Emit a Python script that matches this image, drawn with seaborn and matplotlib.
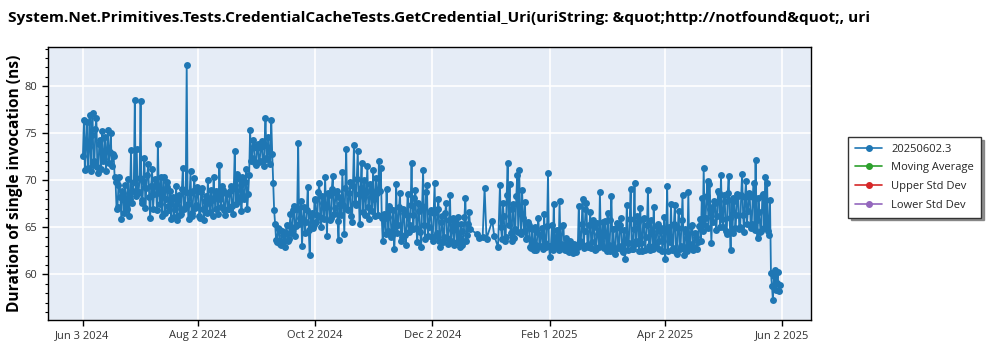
import matplotlib
matplotlib.use("Agg")
import matplotlib.pyplot as plt
import matplotlib.dates as mdates
from matplotlib.lines import Line2D
from matplotlib.ticker import MultipleLocator, FuncFormatter
import numpy as np
import pandas as pd
import seaborn as sns

TITLE = ("System.Net.Primitives.Tests.CredentialCacheTests.GetCredential_Uri"
         "(uriString: &quot;http://notfound&quot;, uri")
Y_LABEL = "Duration of single invocation (ns)"
SERIES_NAME = "20250602.3"
LEGEND_LABELS = [SERIES_NAME, "Moving Average", "Upper Std Dev", "Lower Std Dev"]
LEGEND_COLORS = ["#1f77b4", "#2ca02c", "#d62728", "#9467bd"]
TICK_DATES = ["2024-06-03", "2024-08-02", "2024-10-02", "2024-12-02",
              "2025-02-01", "2025-04-02", "2025-06-02"]

# Morning runs (ns), one array per month
jun24 = [72.6, 71.1, 76.2, 73.5, 71.0, 77.2, 72.0, 76.6, 70.8, 74.3,
         75.2, 72.3, 71.0, 75.3, 73.0, 71.5, 72.6,
         69.8, 67.2, 70.3, 65.9, 68.6, 69.5, 67.0, 66.2, 73.2, 68.9, 78.5]
jul24 = [73.3, 68.8, 78.4, 67.9, 72.4, 69.2, 71.7, 66.0, 71.2, 68.5,
         69.6, 73.9, 67.5, 66.2, 70.3, 68.0, 69.3, 66.8, 65.9, 68.2,
         67.0, 65.8, 68.4, 66.4, 71.3, 67.2, 82.3, 65.9, 71.0, 66.5, 70.2]
aug24 = [67.4, 68.9, 66.0, 69.2, 65.8, 68.3, 70.0, 66.6, 67.9, 70.3,
         66.9, 68.6, 71.6, 67.2, 69.0, 66.3, 68.5, 67.0, 69.4, 66.4,
         73.1, 70.7, 67.8, 69.5, 70.4, 68.0, 71.2, 68.5, 75.4, 72.4, 73.6]
sep24 = [71.6, 73.9, 72.1, 74.2, 71.5, 76.6, 72.3, 73.0, 76.4, 69.7,
         65.4, 63.4, 64.8, 63.1, 64.2, 62.9, 65.3, 63.8, 66.4, 64.9,
         67.3, 65.1, 74.0, 66.0, 63.0, 67.2, 65.6, 69.3, 62.1, 66.5]
oct24 = [65.2, 68.0, 66.3, 69.7, 65.0, 67.6, 70.3, 64.1, 68.4, 66.0,
         70.5, 67.1, 68.9, 63.7, 67.5, 70.9, 64.3, 73.3, 66.8, 69.8,
         65.6, 73.7, 67.4, 73.1, 65.4, 71.8, 68.2, 66.3, 71.5, 65.9, 69.0]
nov24 = [71.1, 66.2, 68.7, 72.0, 71.3, 63.5, 66.0, 69.1, 64.6, 66.9,
         64.2, 62.7, 69.6, 65.3, 68.6, 64.0, 66.5, 63.1, 68.5, 65.2,
         71.8, 64.8, 69.0, 63.4, 66.7, 62.9, 71.1, 63.8, 69.5, 65.0]
dec24 = [66.8, 63.6, 69.7, 64.4, 68.0, 62.9, 66.2, 64.0, 67.6, 63.2,
         68.4, 64.7, 63.1, 65.5, 66.1, 62.9, 64.6, 63.5, 68.1, 64.2, 66.6]
jan25 = [69.5, 63.8, 66.2, 64.0, 71.8, 69.6, 63.6, 67.5, 64.8, 70.6,
         71.1, 64.3, 66.0, 67.7, 63.9, 65.3, 62.8, 63.1, 65.0, 62.6,
         66.0, 63.0, 64.9, 66.4, 62.9, 70.8]
feb25 = [61.8, 65.2, 67.5, 62.9, 64.1, 67.8, 63.0, 65.3, 62.6, 63.2,
         62.4, 63.0, 62.3, 62.8, 63.1, 67.3, 63.2, 68.0, 64.6, 67.6,
         62.9, 66.6, 63.4, 65.0, 62.7, 64.3, 68.8, 63.1]
mar25 = [62.8, 64.2, 66.5, 62.5, 68.3, 64.8, 62.2, 65.5, 63.0, 66.0,
         62.4, 61.6, 67.4, 63.3, 69.1, 62.7, 69.7, 63.5, 65.6, 67.1,
         62.5, 66.0, 64.0, 69.0, 62.6, 64.6, 67.2, 62.9, 65.4, 63.6, 64.9]
apr25 = [63.5, 61.6, 69.4, 65.0, 67.5, 62.8, 67.4, 62.2, 66.7, 63.0,
         68.4, 62.1, 64.5, 68.8, 63.2, 65.3, 62.9, 64.0, 63.4, 65.9,
         68.1, 71.3, 66.0, 69.9, 69.6, 63.3, 65.6, 67.6, 66.2, 68.6]
may25 = [70.6, 65.0, 67.8, 64.3, 70.5, 62.6, 64.4, 67.8, 66.3, 68.3,
         65.0, 70.7, 64.5, 69.9, 66.7, 68.3, 65.4, 69.7, 72.2, 63.9,
         66.6, 64.6, 68.5, 70.3, 69.7, 64.2, 60.1, 57.3, 60.5, 59.1, 58.2]

# Evening runs (ns), same days as above
jun24_pm = [76.4, 74.0, 71.3, 76.9, 74.8, 71.6, 75.5, 71.4, 73.9, 71.2,
            72.0, 74.6, 73.2, 71.8, 75.0, 72.8, 70.4,
            67.0, 69.5, 68.2, 68.9, 66.5, 67.4, 70.1, 68.0, 67.6, 69.8, 68.3]
jul24_pm = [68.6, 70.2, 67.6, 69.9, 67.1, 70.6, 68.2, 69.4, 67.0, 70.1,
            66.8, 68.7, 70.4, 68.9, 66.5, 69.8, 67.3, 68.9, 68.0, 66.1,
            69.4, 67.9, 66.3, 69.1, 67.0, 68.8, 67.5, 68.6, 66.2, 68.9, 67.1]
aug24_pm = [69.3, 66.2, 68.8, 66.9, 67.8, 66.5, 67.6, 69.0, 66.2, 68.1,
            68.9, 66.4, 68.0, 69.4, 66.8, 68.7, 66.9, 68.9, 67.3, 69.2,
            67.5, 68.2, 70.1, 66.7, 68.3, 69.8, 67.0, 70.6, 72.1, 74.3, 71.8]
sep24_pm = [73.4, 71.9, 73.5, 72.0, 73.8, 72.4, 74.6, 71.7, 72.8, 66.8,
            63.7, 64.9, 63.2, 64.6, 63.6, 64.4, 63.5, 65.1, 64.4, 66.8,
            64.1, 66.9, 65.4, 67.8, 65.8, 64.4, 66.8, 64.7, 66.2, 64.9]
oct24_pm = [67.9, 65.6, 68.8, 66.1, 68.3, 65.9, 67.2, 68.7, 65.8, 69.1,
            66.4, 68.7, 65.7, 68.2, 66.3, 67.4, 69.2, 67.0, 68.6, 66.2,
            69.4, 67.6, 70.1, 68.5, 69.2, 66.6, 70.0, 68.8, 67.2, 69.6, 66.7]
nov24_pm = [68.0, 70.2, 66.3, 68.9, 66.0, 66.4, 64.3, 66.1, 67.3, 64.0,
            66.8, 65.1, 64.4, 67.2, 63.6, 66.9, 64.2, 66.3, 64.5, 67.4,
            66.3, 68.1, 64.9, 67.6, 64.5, 67.3, 65.2, 68.8, 64.1, 66.6]
dec24_pm = [64.0, 66.5, 64.1, 66.9, 63.5, 65.6, 63.4, 66.5, 63.9, 65.8,
            63.5, 66.0, 65.3, 63.4, 63.8, 65.4, 63.1, 66.1, 63.6, 65.4, 64.8]
jan25_pm = [65.0, 67.6, 63.6, 68.4, 65.2, 64.4, 67.0, 63.9, 68.3, 64.5,
            66.5, 69.0, 64.6, 63.8, 65.6, 62.9, 64.8, 62.6, 63.1, 64.5,
            63.0, 64.2, 62.7, 63.3, 65.1, 63.0]
feb25_pm = [63.0, 62.6, 63.4, 64.7, 62.6, 63.2, 65.1, 62.7, 63.9, 62.5,
            63.5, 62.6, 63.2, 62.4, 62.9, 63.5, 65.4, 62.8, 66.9, 63.1,
            65.2, 62.8, 65.8, 62.6, 65.5, 62.9, 63.5, 65.6]
mar25_pm = [65.7, 62.5, 63.1, 65.8, 63.0, 62.4, 64.9, 62.8, 65.2, 62.6,
            64.7, 63.4, 62.6, 65.9, 62.7, 64.8, 63.2, 66.2, 62.5, 63.3,
            65.9, 62.6, 65.3, 63.0, 65.8, 62.7, 63.3, 65.1, 62.7, 64.6, 62.5]
apr25_pm = [66.1, 64.6, 62.5, 63.4, 62.6, 65.4, 62.4, 64.9, 62.7, 65.8,
            62.9, 64.8, 62.5, 62.8, 65.1, 62.6, 64.4, 62.7, 65.1, 63.6,
            64.6, 65.3, 68.3, 64.9, 66.9, 67.2, 67.8, 64.7, 68.9, 65.0]
may25_pm = [65.9, 68.4, 64.6, 68.6, 66.0, 67.9, 68.1, 64.9, 68.5, 64.8,
            68.4, 66.3, 68.2, 65.4, 68.6, 64.9, 68.2, 64.7, 65.8, 68.1,
            64.5, 68.3, 64.9, 65.1, 64.6, 67.9, 58.8, 59.8, 58.3, 60.2, 58.9]

# Holiday weeks: only a few runs
holiday_dates = ["2024-12-25", "2024-12-26", "2024-12-28", "2024-12-29",
                 "2024-12-30", "2025-01-02", "2025-01-03", "2025-01-05"]
holiday = [64.3, 63.9, 64.0, 69.2, 63.8, 65.7, 64.1, 62.9]

# Contiguous daily blocks: (first day, morning runs, evening runs)
blocks = [("2024-06-03", jun24, jun24_pm), ("2024-07-01", jul24, jul24_pm),
          ("2024-08-01", aug24, aug24_pm), ("2024-09-01", sep24, sep24_pm),
          ("2024-10-01", oct24, oct24_pm), ("2024-11-01", nov24, nov24_pm),
          ("2024-12-01", dec24, dec24_pm), ("2025-01-06", jan25, jan25_pm),
          ("2025-02-01", feb25, feb25_pm), ("2025-03-01", mar25, mar25_pm),
          ("2025-04-01", apr25, apr25_pm), ("2025-05-01", may25, may25_pm)]

frames = []
for start, am, pm in blocks:
    days = pd.date_range(start, periods=len(am), freq="D")
    frames.append(pd.DataFrame({"date": days + pd.Timedelta(hours=4), "value": am}))
    frames.append(pd.DataFrame({"date": days + pd.Timedelta(hours=16), "value": pm}))
frames.append(pd.DataFrame({"date": pd.to_datetime(holiday_dates) + pd.Timedelta(hours=4),
                            "value": holiday}))
df = pd.concat(frames).sort_values("date").reset_index(drop=True)

sns.set_theme(style="white")
plt.rcParams["font.family"] = ["Open Sans", "DejaVu Sans"]

fig = plt.figure(figsize=(10, 3.5), dpi=100)
ax = fig.add_axes([0.048, 0.0857, 0.763, 0.780])
ax.set_facecolor("#E5ECF6")

sns.lineplot(data=df, x="date", y="value", ax=ax, color=LEGEND_COLORS[0],
             marker="o", markersize=5, markeredgewidth=0, linewidth=1.3,
             estimator=None, sort=True, legend=False)

ax.set_ylim(55.15, 84.17)
ax.set_xlim(pd.Timestamp("2024-05-16"), pd.Timestamp("2025-06-17"))
ax.yaxis.set_major_locator(MultipleLocator(5))
ax.yaxis.set_minor_locator(MultipleLocator(1))
ticks = pd.to_datetime(TICK_DATES)
ax.set_xticks(ticks)
ax.xaxis.set_major_formatter(FuncFormatter(
    lambda v, pos: (lambda d: f"{d:%b} {d.day} {d.year}")(mdates.num2date(v))))

ax.grid(True, which="major", color="white", linewidth=1.2)
ax.set_axisbelow(True)
for side in ["left", "bottom", "right", "top"]:
    ax.spines[side].set_visible(True)
    ax.spines[side].set_color("black")
    ax.spines[side].set_linewidth(1.0)

ax.tick_params(axis="both", which="major", direction="out", length=4, width=1,
               color="black", labelsize=8, labelcolor="#333333", left=True, bottom=True)
ax.tick_params(axis="y", which="minor", direction="out", length=2, width=0.8,
               color="black", left=True)
ax.set_xlabel("")
ax.set_ylabel(Y_LABEL, fontsize=11.2, fontweight="bold", color="black", labelpad=1)

fig.text(0.008, 0.948, TITLE, ha="left", va="center", fontsize=11.05,
         fontweight="bold", color="black")

handles = [Line2D([0], [0], color=c, marker="o", markersize=4, linewidth=1.2)
           for c in LEGEND_COLORS]
leg = ax.legend(handles, LEGEND_LABELS, loc="upper left",
                bbox_to_anchor=(0.848, 0.609), bbox_transform=fig.transFigure,
                borderaxespad=0, fontsize=8, frameon=True, fancybox=False,
                shadow={"color": "#777777", "alpha": 0.8}, handlelength=2.5,
                labelspacing=0.7, borderpad=0.6)
leg.get_frame().set_edgecolor("#333333")
leg.get_frame().set_linewidth(1.0)

fig.savefig("out.png", dpi=100)
